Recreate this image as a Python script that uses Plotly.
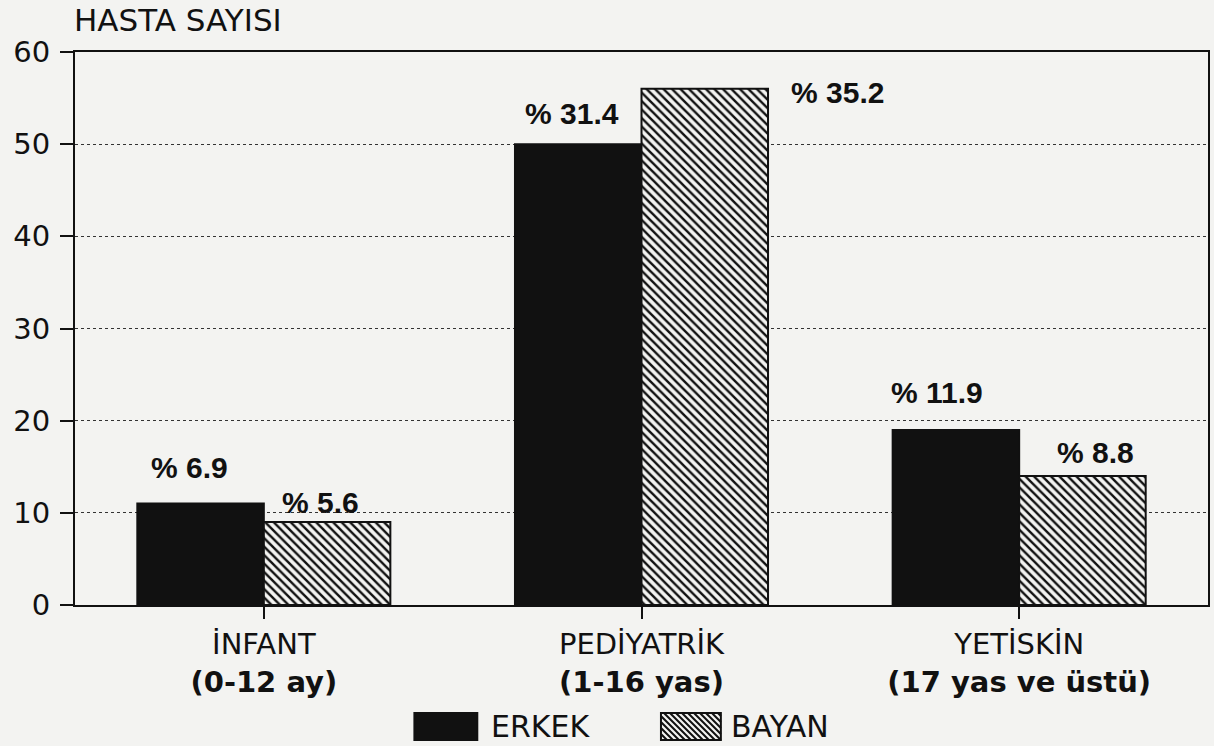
import plotly.graph_objects as go

# Patient counts by age group and sex
categories = ["İNFANT<br><b>(0-12 ay)</b>",
              "PEDİYATRİK<br><b>(1-16 yas)</b>",
              "YETİSKİN<br><b>(17 yas ve üstü)</b>"]
erkek = [11, 50, 19]
bayan = [9, 56, 14]
erkek_pct = ["% 6.9", "% 31.4", "% 11.9"]
bayan_pct = ["% 5.6", "% 35.2", "% 8.8"]
y_ticks = [0, 10, 20, 30, 40, 50, 60]

W, H = 1214, 746
L, R, T, B = 75, 4, 52, 141
PAPER = "#f3f3f1"
INK = "#111111"
FONT = "Liberation Sans, Arial, Helvetica, sans-serif"
WIDE = "DejaVu Sans, Verdana, sans-serif"

fig = go.Figure()
fig.add_trace(go.Bar(
    name="ERKEK", x=categories, y=erkek,
    marker=dict(color=INK, line=dict(color=INK, width=2)),
))
fig.add_trace(go.Bar(
    name="BAYAN", x=categories, y=bayan,
    marker=dict(color=PAPER, line=dict(color=INK, width=2),
                pattern=dict(shape="\\", size=6, solidity=0.4,
                             fgcolor=INK, bgcolor=PAPER, fillmode="replace")),
))

# Percentage labels beside the bars (pixel offsets from the group centre)
erkek_off = [(-74, 36), (-70, 31), (-82, 37)]
bayan_off = [(57, 20), (196, -4), (76, 23)]
label_font = dict(family=FONT, size=30, color=INK)
for cat, v, txt, (dx, dy) in zip(categories, erkek, erkek_pct, erkek_off):
    fig.add_annotation(x=cat, y=v, text=f"<b>{txt}</b>", showarrow=False,
                       xshift=dx, yshift=dy, font=label_font,
                       xanchor="center", yanchor="middle")
for cat, v, txt, (dx, dy) in zip(categories, bayan, bayan_pct, bayan_off):
    fig.add_annotation(x=cat, y=v, text=f"<b>{txt}</b>", showarrow=False,
                       xshift=dx, yshift=dy, font=label_font,
                       xanchor="center", yanchor="middle")

# Axis title above the value axis
fig.add_annotation(xref="paper", yref="paper", x=-0.003, y=1, yshift=32,
                   text="HASTA SAYISI", showarrow=False, xanchor="left",
                   yanchor="middle", font=dict(family=WIDE, size=31, color=INK))

# Hand-drawn legend below the chart
pw, ph = W - L - R, H - T - B


def px(x):
    return (x - L) / pw


def py(y):
    return (H - B - y) / ph


def hatch_path(x0, y0, x1, y1, step=6):
    h = y1 - y0
    parts = []
    c = x0 - h
    while c < x1:
        t0 = max(0, x0 - c)
        t1 = min(h, x1 - c)
        if t1 > t0:
            parts.append(f"M{px(c + t0):.5f},{py(y0 + t0):.5f}"
                         f"L{px(c + t1):.5f},{py(y0 + t1):.5f}")
        c += step
    return "".join(parts)


legend_items = [("ERKEK", 415, 478, 490), ("BAYAN", 662, 722, 730)]
sy0, sy1 = 713, 740
for name, sx0, sx1, tx in legend_items:
    if name == "ERKEK":
        fig.add_shape(type="rect", xref="paper", yref="paper",
                      x0=px(sx0), x1=px(sx1), y0=py(sy1), y1=py(sy0),
                      fillcolor=INK, line=dict(color=INK, width=2))
    else:
        fig.add_shape(type="rect", xref="paper", yref="paper",
                      x0=px(sx0), x1=px(sx1), y0=py(sy1), y1=py(sy0),
                      fillcolor=PAPER, line=dict(color=INK, width=2))
        fig.add_shape(type="path", xref="paper", yref="paper",
                      path=hatch_path(sx0, sy0, sx1, sy1),
                      line=dict(color=INK, width=2))
    fig.add_annotation(xref="paper", yref="paper", x=px(tx), y=py((sy0 + sy1) / 2),
                       text=name, showarrow=False, xanchor="left", yanchor="middle",
                       font=dict(family=WIDE, size=30, color=INK))

fig.update_layout(
    width=W, height=H,
    margin=dict(l=L, r=R, t=T, b=B),
    paper_bgcolor=PAPER, plot_bgcolor=PAPER,
    barmode="group", bargap=0.33, bargroupgap=0,
    showlegend=False,
    font=dict(family=WIDE, size=29, color=INK),
)
fig.update_xaxes(
    showline=True, linecolor=INK, linewidth=2, mirror=True,
    ticks="outside", ticklen=12, tickwidth=2, tickcolor=INK,
    tickfont=dict(family=WIDE, size=29, color=INK),
    showgrid=False,
)
fig.update_yaxes(
    range=[0, 60], tickvals=y_ticks,
    showline=True, linecolor=INK, linewidth=2, mirror=True,
    ticks="outside", ticklen=13, tickwidth=2, tickcolor=INK,
    ticklabelstandoff=4,
    tickfont=dict(family=WIDE, size=29, color=INK),
    showgrid=True, gridcolor="#333333", gridwidth=1, griddash="dot",
    zeroline=False,
)

fig.write_html("out.html")
